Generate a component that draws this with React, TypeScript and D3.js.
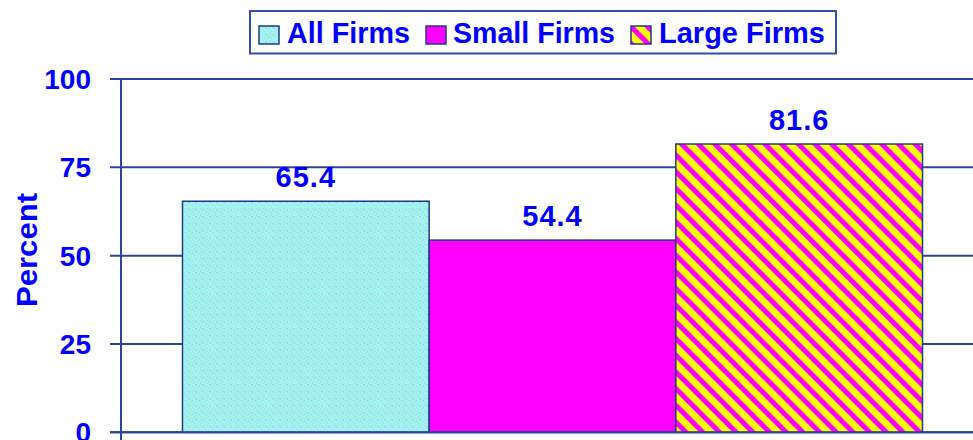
import * as d3 from 'd3';
import React from 'react';

const categories = ['All Firms', 'Small Firms', 'Large Firms'];
const values = [65.4, 54.4, 81.6];
const yTicks = [0, 25, 50, 75, 100];
const axisTitle = 'Percent';

const W = 973;
const H = 440;
const blue = '#0000ff';
const lineColor = '#28469a';
const font = '"Liberation Sans", Arial, sans-serif';

// speckles for the cyan texture
const speckles: [number, number, string][] = [
  [0, 0, '#c4c4f2'], [3, 1, '#7fe6e6'], [5, 3, '#c4c4f2'], [1, 4, '#b0e8f4'],
  [4, 5, '#c4c4f2'], [2, 2, '#8ff0ea'], [6, 6, '#b8c8f2'], [0, 6, '#7fe6e6'],
];

const App = () => {
  const y = d3.scaleLinear().domain([0, 100]).range([432.3, 79]);
  const x = d3.scaleBand<string>().domain(categories).range([182.5, 922.5]).padding(0);
  const fills = ['url(#cyanTex)', '#ff00ff', 'url(#stripes)'];

  const legendItems = [
    { sw: 259, tx: 287, tw: 123 },
    { sw: 426, tx: 453, tw: 162 },
    { sw: 631, tx: 659, tw: 166 },
  ];

  return (
    <svg
      width={W}
      height={H}
      style={{ position: 'absolute', left: 0, top: 0, background: '#fff' }}
    >
      <defs>
        <pattern id="cyanTex" patternUnits="userSpaceOnUse" width={7} height={7}>
          <rect width={7} height={7} fill="#a2f4ee" />
          {speckles.map(([sx, sy, c], i) => (
            <rect key={i} x={sx} y={sy} width={1} height={1} fill={c} />
          ))}
        </pattern>
        <pattern
          id="stripes"
          patternUnits="userSpaceOnUse"
          width={11.8}
          height={11.8}
          patternTransform="rotate(-45)"
        >
          <rect width={11.8} height={11.8} fill="#ffff00" />
          <rect width={5} height={11.8} fill="#ff00ff" />
        </pattern>
      </defs>

      {/* gridlines */}
      {yTicks.map(t => (
        <line
          key={t}
          x1={110}
          x2={W}
          y1={y(t)}
          y2={y(t)}
          stroke={lineColor}
          strokeWidth={2}
        />
      ))}

      {/* bars */}
      {categories.map((c, i) => (
        <rect
          key={c}
          x={x(c)}
          y={y(values[i])}
          width={x.bandwidth()}
          height={y(0) - y(values[i])}
          fill={fills[i]}
          stroke="#1f3a86"
          strokeWidth={1.5}
        />
      ))}

      {/* axes */}
      <line x1={121} x2={121} y1={y(100)} y2={H} stroke={lineColor} strokeWidth={2} />
      <line x1={110} x2={W} y1={y(0)} y2={y(0)} stroke={lineColor} strokeWidth={2} />

      {/* tick labels */}
      {yTicks.map(t => (
        <text
          key={t}
          x={91}
          y={y(t) + 10}
          textAnchor="end"
          fontFamily={font}
          fontWeight="bold"
          fontSize={28}
          fill={blue}
        >
          {t}
        </text>
      ))}

      <text
        transform={`translate(37,250) rotate(-90)`}
        textAnchor="middle"
        fontFamily={font}
        fontWeight="bold"
        fontSize={29}
        fill={blue}
        textLength={114}
        lengthAdjust="spacingAndGlyphs"
      >
        {axisTitle}
      </text>

      {/* value labels */}
      {categories.map((c, i) => (
        <text
          key={c}
          x={(x(c) ?? 0) + x.bandwidth() / 2}
          y={y(values[i]) - 14}
          textAnchor="middle"
          fontFamily={font}
          fontWeight="bold"
          fontSize={29}
          fill={blue}
          letterSpacing={1}
        >
          {values[i].toFixed(1)}
        </text>
      ))}

      {/* legend */}
      <rect x={250} y={11} width={586} height={42.5} fill="#fff" stroke="#3050a8" strokeWidth={2} />
      {categories.map((c, i) => (
        <g key={c}>
          <rect
            x={legendItems[i].sw}
            y={26}
            width={20}
            height={18}
            fill={fills[i]}
            stroke="#1f3a86"
            strokeWidth={1.5}
          />
          <text
            x={legendItems[i].tx}
            y={43}
            fontFamily={font}
            fontWeight="bold"
            fontSize={29}
            fill={blue}
            textLength={legendItems[i].tw}
            lengthAdjust="spacingAndGlyphs"
          >
            {c}
          </text>
        </g>
      ))}
    </svg>
  );
};

export default App;
